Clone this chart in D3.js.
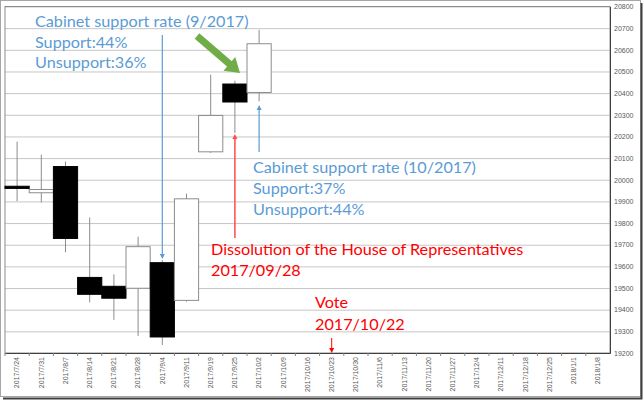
<!DOCTYPE html>
<html>
<head>
<meta charset="utf-8">
<script src="https://cdn.jsdelivr.net/npm/d3@7"></script>
<style>
	body { margin:0; background:#fff; }
	svg text { font-family: "Liberation Sans", Arial, sans-serif; }
	.note { font-family: Lato, "Open Sans", sans-serif; font-size:16.2px; }
</style>
</head>
<body>
<div id="chart"></div>
<script>
// weekly categories on the x axis
const weeks= ["2017/7/24","2017/7/31","2017/8/7","2017/8/14","2017/8/21","2017/8/28","2017/9/4","2017/9/11",
	"2017/9/19","2017/9/25","2017/10/2","2017/10/9","2017/10/16","2017/10/23","2017/10/30","2017/11/6",
	"2017/11/13","2017/11/20","2017/11/27","2017/12/4","2017/12/11","2017/12/18","2017/12/25","2018/1/1","2018/1/8"];
// candles (only the first 11 weeks have data)
const candleWeeks= ["2017/7/24","2017/7/31","2017/8/7","2017/8/14","2017/8/21","2017/8/28","2017/9/4","2017/9/11","2017/9/19","2017/9/25","2017/10/2"];
const openVals=  [19970, 19940, 20061, 19549, 19508, 19499, 19617, 19443, 20129, 20442, 20403];
const highVals=  [20176, 20116, 20084, 19826, 19563, 19737, 19629, 19936, 20485, 20457, 20692];
const lowVals=   [19901, 19895, 19665, 19434, 19353, 19279, 19237, 19437, 20124, 20216, 20362];
const closeVals= [19960, 19955, 19729, 19471, 19453, 19691, 19274, 19912, 20297, 20359, 20628];
const yTicks= d3.range(19200, 20801, 100);

const W= 644, H= 402;
const plot= {left:5, right:610, top:6.5, bottom:353};

const svg= d3.select("#chart").append("svg")
	.attr("width", W)
	.attr("height", H);

//outer frame with shadow
svg.append("rect").attr("x",0.5).attr("y",0.5).attr("width",640).attr("height",396)
	.attr("fill","#fff").attr("stroke","#a6a6a6");
svg.append("path").attr("d","M641.5,3V398.5H3").attr("fill","none").attr("stroke","#404040").attr("stroke-width",2);

const x= d3.scaleBand().domain(weeks).range([plot.left, plot.right]).padding(0);
const y= d3.scaleLinear().domain([19200, 20800]).range([plot.bottom, plot.top]);

//grid lines
svg.append("g")
	.attr("transform","translate("+plot.left+",0)")
	.call(d3.axisLeft(y).tickValues(yTicks).tickSize(-(plot.right-plot.left)).tickFormat(""))
	.call(g=> g.select(".domain").remove())
	.call(g=> g.selectAll("line").attr("stroke","#c6c6c6"));

//plot frame
svg.append("rect").attr("x",plot.left).attr("y",plot.top)
	.attr("width",plot.right-plot.left).attr("height",plot.bottom-plot.top)
	.attr("fill","none").attr("stroke","#8c8c8c");

//y axis labels on the right
svg.append("g")
	.attr("transform","translate("+plot.right+",0)")
	.call(d3.axisRight(y).tickValues(yTicks).tickSize(0).tickPadding(4).tickFormat(d3.format("d")))
	.call(g=> g.select(".domain").attr("stroke","#404040"))
	.call(g=> g.selectAll("text").attr("fill","#595959").style("font-size","7px"));

//x axis
const xAxis= svg.append("g")
	.attr("transform","translate(0,"+plot.bottom+")")
	.call(d3.axisBottom(x).tickSize(0).tickPadding(0));
xAxis.select(".domain").attr("stroke","#404040");
xAxis.selectAll("text")
	.attr("fill","#595959")
	.style("font-size","7px")
	.attr("transform","rotate(-90)")
	.attr("text-anchor","end")
	.attr("x",-4)
	.attr("y",0)
	.attr("dy","0.32em");
xAxis.selectAll(".bnd")
	.data(weeks)
	.enter().append("line")
	.attr("class","bnd")
	.attr("x1",d=> x(d)).attr("x2",d=> x(d))
	.attr("y1",0).attr("y2",3)
	.attr("stroke","#808080");

//candles
const candles= candleWeeks.map((w,i)=> ({week:w, o:openVals[i], h:highVals[i], l:lowVals[i], c:closeVals[i]}));
const cg= svg.append("g");
cg.selectAll(".wick")
	.data(candles).enter().append("line")
	.attr("class","wick")
	.attr("x1",d=> x(d.week)+x.bandwidth()/2).attr("x2",d=> x(d.week)+x.bandwidth()/2)
	.attr("y1",d=> y(d.h)).attr("y2",d=> y(d.l))
	.attr("stroke","#8c8c8c");
cg.selectAll(".body")
	.data(candles).enter().append("rect")
	.attr("class","body")
	.attr("x",d=> x(d.week))
	.attr("width",x.bandwidth())
	.attr("y",d=> y(Math.max(d.o,d.c)))
	.attr("height",d=> Math.max(1.5, Math.abs(y(d.o)-y(d.c))))
	.attr("fill",d=> d.c<d.o ? "#000" : "#fff")
	.attr("stroke",d=> d.c<d.o ? "#000" : "#8c8c8c");

//annotations
const blue="#5B9BD5", red="#FF0000", green="#70AD47";
const cx= w=> x(w)+x.bandwidth()/2;

function arrow(x1,y1,x2,y2,color,sw,hw,hl)
{
	const dx=x2-x1, dy=y2-y1, len=Math.hypot(dx,dy);
	const ux=dx/len, uy=dy/len, px=-uy, py=ux;
	const bx=x2-ux*hl, by=y2-uy*hl;
	svg.append("line").attr("x1",x1).attr("y1",y1).attr("x2",bx+ux).attr("y2",by+uy)
		.attr("stroke",color).attr("stroke-width",sw);
	svg.append("path")
		.attr("d","M"+x2+","+y2+"L"+(bx+px*hw)+","+(by+py*hw)+"L"+(bx-px*hw)+","+(by-py*hw)+"Z")
		.attr("fill",color);
}

//blue arrow down to 9/4
arrow(cx("2017/9/4"),35,cx("2017/9/4"),y(19629)-1,blue,1.2,2.5,5);
//green arrow
arrow(197,36,240,73,green,7,9,14);
//blue arrow up to 10/2
arrow(cx("2017/10/2"),152,cx("2017/10/2"),105,blue,1.2,2.5,5);
//red arrow up to 9/25
arrow(cx("2017/9/25"),238,cx("2017/9/25"),134,"#FF4B4B",1.5,2.5,5);
//red arrow down to the axis at 10/23
arrow(cx("2017/10/23"),338,cx("2017/10/23"),plot.bottom,red,1,2.5,5);

const notes=
[
	{t:"Cabinet support rate (9/2017)", x:35, y:27, c:blue},
	{t:"Support:44%", x:35, y:48, c:blue},
	{t:"Unsupport:36%", x:35, y:68, c:blue},
	{t:"Cabinet support rate (10/2017)", x:253, y:173, c:blue},
	{t:"Support:37%", x:253, y:194, c:blue},
	{t:"Unsupport:44%", x:253, y:215, c:blue},
	{t:"Dissolution of the House of Representatives", x:211, y:255, c:red},
	{t:"2017/09/28", x:211, y:276, c:red},
	{t:"Vote", x:315, y:308, c:red},
	{t:"2017/10/22", x:315, y:330, c:red}
];
svg.selectAll(".note")
	.data(notes).enter().append("text")
	.attr("class","note")
	.attr("x",d=> d.x).attr("y",d=> d.y)
	.attr("fill",d=> d.c)
	.text(d=> d.t);
</script>
</body>
</html>
